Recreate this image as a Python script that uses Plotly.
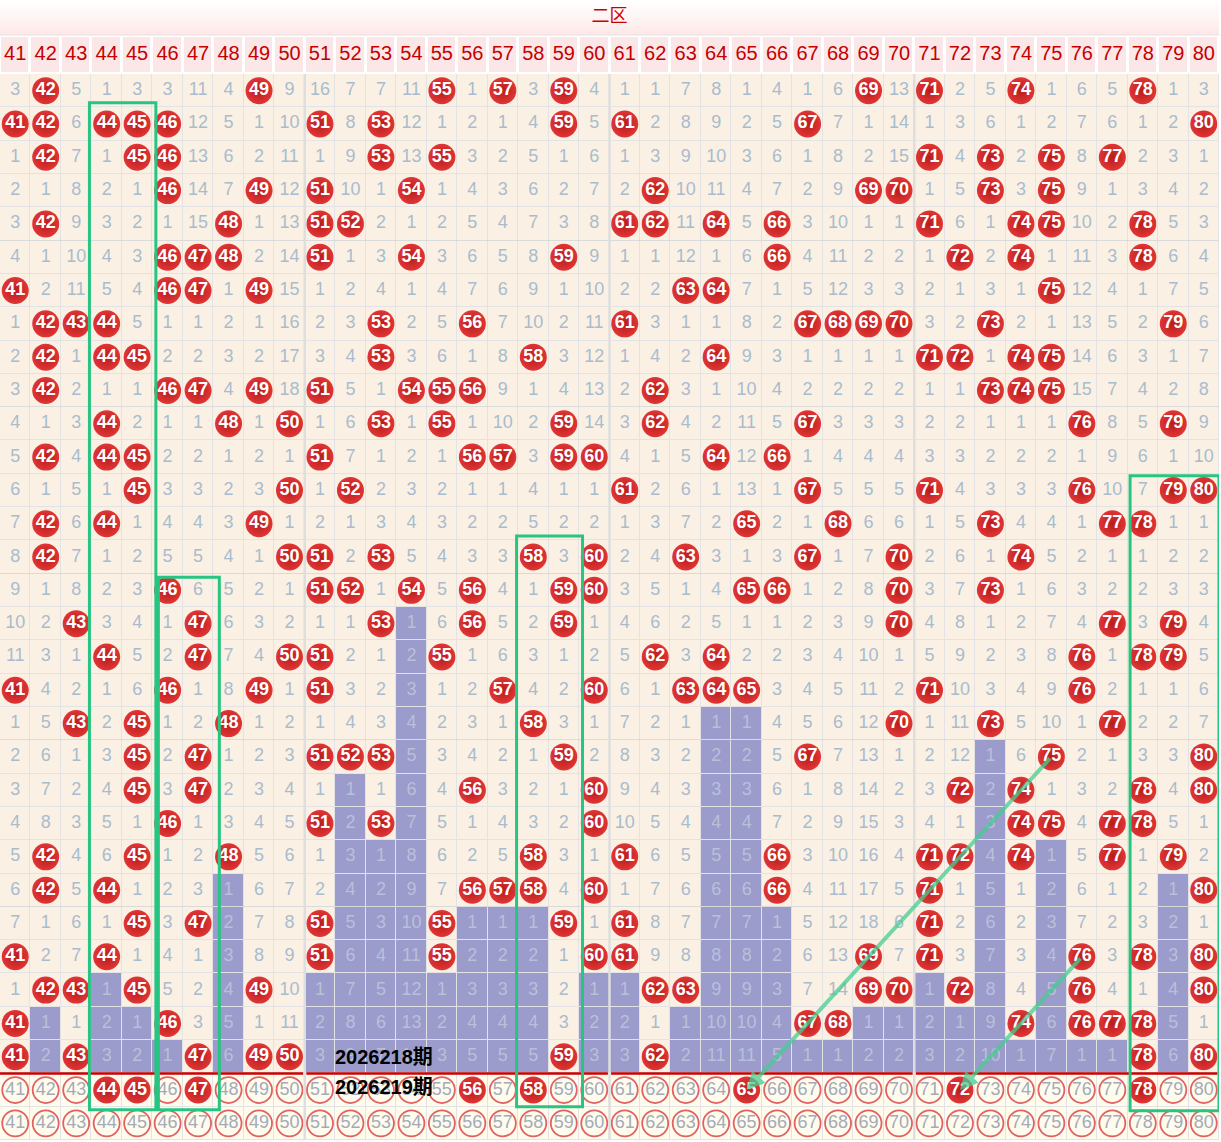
import plotly.graph_objects as go

# ---- data ----
zone_title = "二区"
numbers = list(range(41, 81))

# omission count per period and number, 0 = number drawn in that period
miss_rows = [
    [3, 0, 5, 1, 3, 3, 11, 4, 0, 9, 16, 7, 7, 11, 0, 1, 0, 3, 0, 4, 1, 1, 7, 8, 1, 4, 1, 6, 0, 13, 0, 2, 5, 0, 1, 6, 5, 0, 1, 3],
    [0, 0, 6, 0, 0, 0, 12, 5, 1, 10, 0, 8, 0, 12, 1, 2, 1, 4, 0, 5, 0, 2, 8, 9, 2, 5, 0, 7, 1, 14, 1, 3, 6, 1, 2, 7, 6, 1, 2, 0],
    [1, 0, 7, 1, 0, 0, 13, 6, 2, 11, 1, 9, 0, 13, 0, 3, 2, 5, 1, 6, 1, 3, 9, 10, 3, 6, 1, 8, 2, 15, 0, 4, 0, 2, 0, 8, 0, 2, 3, 1],
    [2, 1, 8, 2, 1, 0, 14, 7, 0, 12, 0, 10, 1, 0, 1, 4, 3, 6, 2, 7, 2, 0, 10, 11, 4, 7, 2, 9, 0, 0, 1, 5, 0, 3, 0, 9, 1, 3, 4, 2],
    [3, 0, 9, 3, 2, 1, 15, 0, 1, 13, 0, 0, 2, 1, 2, 5, 4, 7, 3, 8, 0, 0, 11, 0, 5, 0, 3, 10, 1, 1, 0, 6, 1, 0, 0, 10, 2, 0, 5, 3],
    [4, 1, 10, 4, 3, 0, 0, 0, 2, 14, 0, 1, 3, 0, 3, 6, 5, 8, 0, 9, 1, 1, 12, 1, 6, 0, 4, 11, 2, 2, 1, 0, 2, 0, 1, 11, 3, 0, 6, 4],
    [0, 2, 11, 5, 4, 0, 0, 1, 0, 15, 1, 2, 4, 1, 4, 7, 6, 9, 1, 10, 2, 2, 0, 0, 7, 1, 5, 12, 3, 3, 2, 1, 3, 1, 0, 12, 4, 1, 7, 5],
    [1, 0, 0, 0, 5, 1, 1, 2, 1, 16, 2, 3, 0, 2, 5, 0, 7, 10, 2, 11, 0, 3, 1, 1, 8, 2, 0, 0, 0, 0, 3, 2, 0, 2, 1, 13, 5, 2, 0, 6],
    [2, 0, 1, 0, 0, 2, 2, 3, 2, 17, 3, 4, 0, 3, 6, 1, 8, 0, 3, 12, 1, 4, 2, 0, 9, 3, 1, 1, 1, 1, 0, 0, 1, 0, 0, 14, 6, 3, 1, 7],
    [3, 0, 2, 1, 1, 0, 0, 4, 0, 18, 0, 5, 1, 0, 0, 0, 9, 1, 4, 13, 2, 0, 3, 1, 10, 4, 2, 2, 2, 2, 1, 1, 0, 0, 0, 15, 7, 4, 2, 8],
    [4, 1, 3, 0, 2, 1, 1, 0, 1, 0, 1, 6, 0, 1, 0, 1, 10, 2, 0, 14, 3, 0, 4, 2, 11, 5, 0, 3, 3, 3, 2, 2, 1, 1, 1, 0, 8, 5, 0, 9],
    [5, 0, 4, 0, 0, 2, 2, 1, 2, 1, 0, 7, 1, 2, 1, 0, 0, 3, 0, 0, 4, 1, 5, 0, 12, 0, 1, 4, 4, 4, 3, 3, 2, 2, 2, 1, 9, 6, 1, 10],
    [6, 1, 5, 1, 0, 3, 3, 2, 3, 0, 1, 0, 2, 3, 2, 1, 1, 4, 1, 1, 0, 2, 6, 1, 13, 1, 0, 5, 5, 5, 0, 4, 3, 3, 3, 0, 10, 7, 0, 0],
    [7, 0, 6, 0, 1, 4, 4, 3, 0, 1, 2, 1, 3, 4, 3, 2, 2, 5, 2, 2, 1, 3, 7, 2, 0, 2, 1, 0, 6, 6, 1, 5, 0, 4, 4, 1, 0, 0, 1, 1],
    [8, 0, 7, 1, 2, 5, 5, 4, 1, 0, 0, 2, 0, 5, 4, 3, 3, 0, 3, 0, 2, 4, 0, 3, 1, 3, 0, 1, 7, 0, 2, 6, 1, 0, 5, 2, 1, 1, 2, 2],
    [9, 1, 8, 2, 3, 0, 6, 5, 2, 1, 0, 0, 1, 0, 5, 0, 4, 1, 0, 0, 3, 5, 1, 4, 0, 0, 1, 2, 8, 0, 3, 7, 0, 1, 6, 3, 2, 2, 3, 3],
    [10, 2, 0, 3, 4, 1, 0, 6, 3, 2, 1, 1, 0, 1, 6, 0, 5, 2, 0, 1, 4, 6, 2, 5, 1, 1, 2, 3, 9, 0, 4, 8, 1, 2, 7, 4, 0, 3, 0, 4],
    [11, 3, 1, 0, 5, 2, 0, 7, 4, 0, 0, 2, 1, 2, 0, 1, 6, 3, 1, 2, 5, 0, 3, 0, 2, 2, 3, 4, 10, 1, 5, 9, 2, 3, 8, 0, 1, 0, 0, 5],
    [0, 4, 2, 1, 6, 0, 1, 8, 0, 1, 0, 3, 2, 3, 1, 2, 0, 4, 2, 0, 6, 1, 0, 0, 0, 3, 4, 5, 11, 2, 0, 10, 3, 4, 9, 0, 2, 1, 1, 6],
    [1, 5, 0, 2, 0, 1, 2, 0, 1, 2, 1, 4, 3, 4, 2, 3, 1, 0, 3, 1, 7, 2, 1, 1, 1, 4, 5, 6, 12, 0, 1, 11, 0, 5, 10, 1, 0, 2, 2, 7],
    [2, 6, 1, 3, 0, 2, 0, 1, 2, 3, 0, 0, 0, 5, 3, 4, 2, 1, 0, 2, 8, 3, 2, 2, 2, 5, 0, 7, 13, 1, 2, 12, 1, 6, 0, 2, 1, 3, 3, 0],
    [3, 7, 2, 4, 0, 3, 0, 2, 3, 4, 1, 1, 1, 6, 4, 0, 3, 2, 1, 0, 9, 4, 3, 3, 3, 6, 1, 8, 14, 2, 3, 0, 2, 0, 1, 3, 2, 0, 4, 0],
    [4, 8, 3, 5, 1, 0, 1, 3, 4, 5, 0, 2, 0, 7, 5, 1, 4, 3, 2, 0, 10, 5, 4, 4, 4, 7, 2, 9, 15, 3, 4, 1, 3, 0, 0, 4, 0, 0, 5, 1],
    [5, 0, 4, 6, 0, 1, 2, 0, 5, 6, 1, 3, 1, 8, 6, 2, 5, 0, 3, 1, 0, 6, 5, 5, 5, 0, 3, 10, 16, 4, 0, 0, 4, 0, 1, 5, 0, 1, 0, 2],
    [6, 0, 5, 0, 1, 2, 3, 1, 6, 7, 2, 4, 2, 9, 7, 0, 0, 0, 4, 0, 1, 7, 6, 6, 6, 0, 4, 11, 17, 5, 0, 1, 5, 1, 2, 6, 1, 2, 1, 0],
    [7, 1, 6, 1, 0, 3, 0, 2, 7, 8, 0, 5, 3, 10, 0, 1, 1, 1, 0, 1, 0, 8, 7, 7, 7, 1, 5, 12, 18, 6, 0, 2, 6, 2, 3, 7, 2, 3, 2, 1],
    [0, 2, 7, 0, 1, 4, 1, 3, 8, 9, 0, 6, 4, 11, 0, 2, 2, 2, 1, 0, 0, 9, 8, 8, 8, 2, 6, 13, 0, 7, 0, 3, 7, 3, 4, 0, 3, 0, 3, 0],
    [1, 0, 0, 1, 0, 5, 2, 4, 0, 10, 1, 7, 5, 12, 1, 3, 3, 3, 2, 1, 1, 0, 0, 9, 9, 3, 7, 14, 0, 0, 1, 0, 8, 4, 5, 0, 4, 1, 4, 0],
    [0, 1, 1, 2, 1, 0, 3, 5, 1, 11, 2, 8, 6, 13, 2, 4, 4, 4, 3, 2, 2, 1, 1, 10, 10, 4, 0, 0, 1, 1, 2, 1, 9, 0, 6, 0, 0, 0, 5, 1],
    [0, 2, 0, 3, 2, 1, 0, 6, 0, 0, 3, 9, 7, 14, 3, 5, 5, 5, 0, 3, 3, 0, 2, 11, 11, 5, 1, 1, 2, 2, 3, 2, 10, 1, 7, 1, 1, 0, 6, 0],
]

# numbers picked in the forecast row under the table
picks = [44, 45, 47, 56, 58, 65, 72, 78]
periods = ["2026218期", "2026219期"]

# green boxes: (first number, last number, first period row)
boxes = [(44, 45, 2), (46, 47, 16), (58, 59, 15), (78, 80, 13)]
# green arrows: (from number, from row, to number, to row)
arrows = [(75, 21, 65, 31), (76, 27, 72, 31)]

# ---- geometry / style ----
W, H = 1221, 1142
HEAD_PX = 74
n_rows = len(miss_rows)
pred_row = n_rows + 1
blank_row = n_rows + 2
ROW_PX = (H - 2 - HEAD_PX) / blank_row
COL_PX = (W - 2) / len(numbers)
Y_TOP = 0.5 - HEAD_PX / ROW_PX


def py(px):
    return Y_TOP + px / ROW_PX


def col(n):
    return numbers.index(n)


FONT = "Liberation Sans, Arial, sans-serif"
CREAM = "#FAF1E4"
PURPLE = "#9B9BCC"
YELLOW = "#FFFCEE"
GRID = "#E3E3E6"
GREEN = "#27C482"

# which cells belong to the current (unfinished) miss streak
last_hit = []
for c in range(len(numbers)):
    hits = [r for r in range(n_rows) if miss_rows[r][c] == 0]
    last_hit.append(hits[-1] if hits else -1)

z = []
for r in range(n_rows):
    z.append([1 if r > last_hit[c] else 0 for c in range(len(numbers))])
z.append([2] * len(numbers))
z.append([2] * len(numbers))

fig = go.Figure()

# header background
fig.add_shape(type="rect", x0=-0.5, x1=len(numbers) - 0.5, y0=Y_TOP, y1=0.5,
              fillcolor="white", line_width=0, layer="below")
steps = 12
fig.add_trace(go.Heatmap(
    z=[[k] for k in range(steps)], x=[-0.5, len(numbers) - 0.5],
    y=[py(35 * k / steps) for k in range(steps + 1)],
    colorscale=[[0, "#FFFFFF"], [1, "#FDE9E9"]], showscale=False, hoverinfo="skip"))
fig.add_trace(go.Heatmap(
    z=[[1] * len(numbers)], x=[c - 0.5 for c in range(len(numbers) + 1)],
    y=[py(37), py(72)], xgap=3,
    colorscale=[[0, "#FBE7E7"], [1, "#FBE7E7"]], showscale=False, hoverinfo="skip"))

# body cells
fig.add_trace(go.Heatmap(
    z=z, x=list(range(len(numbers))), y=list(range(1, blank_row + 1)),
    zmin=0, zmax=2, xgap=1, ygap=1,
    colorscale=[[0, CREAM], [0.33, CREAM], [0.34, PURPLE], [0.66, PURPLE],
                [0.67, YELLOW], [1, YELLOW]],
    showscale=False, hoverinfo="skip"))

# separators every 5 periods and every 10 numbers
for r in range(5, n_rows, 5):
    fig.add_shape(type="line", x0=-0.5, x1=len(numbers) - 0.5, y0=r + 0.5, y1=r + 0.5,
                  line=dict(color="#DADADA", width=2), layer="below")
for c in range(10, len(numbers), 10):
    fig.add_shape(type="line", x0=c - 0.5, x1=c - 0.5, y0=0.5, y1=blank_row + 0.5,
                  line=dict(color="#DEDEDE", width=2.5), layer="above")
gap = 1.6 / COL_PX
for c in range(0, len(numbers), 10):
    fig.add_shape(type="line", x0=c - 0.5 + (gap if c else 0), x1=c + 9.5 - gap,
                  y0=n_rows + 0.5, y1=n_rows + 0.5,
                  line=dict(color="#CC0000", width=2.5), layer="above")
fig.add_shape(type="line", x0=-0.5, x1=len(numbers) - 0.5, y0=py(35), y1=py(35),
              line=dict(color="#EEDCDC", width=1), layer="above")

# header texts
fig.add_trace(go.Scatter(
    x=[(len(numbers) - 1) / 2], y=[py(17)], mode="text", text=[zone_title],
    textfont=dict(family="Noto Sans CJK SC", size=18, color="#CC0000"), hoverinfo="skip"))
fig.add_trace(go.Scatter(
    x=list(range(len(numbers))), y=[py(55)] * len(numbers), mode="text",
    text=[str(n) for n in numbers],
    textfont=dict(family=FONT, size=20, color="#C40000"), hoverinfo="skip"))

# omission numbers
gx, gy, gt, vx, vy, vt, hx, hy, ht = [], [], [], [], [], [], [], [], []
for r, row in enumerate(miss_rows):
    for c, v in enumerate(row):
        if v == 0:
            hx.append(c); hy.append(r + 1); ht.append(str(numbers[c]))
        elif r > last_hit[c]:
            vx.append(c); vy.append(r + 1); vt.append(str(v))
        else:
            gx.append(c); gy.append(r + 1); gt.append(str(v))

fig.add_trace(go.Scatter(x=gx, y=gy, mode="text", text=gt,
                         textfont=dict(family=FONT, size=18, color="#A9BCCE"), hoverinfo="skip"))
fig.add_trace(go.Scatter(x=vx, y=vy, mode="text", text=vt,
                         textfont=dict(family=FONT, size=18, color="#B9C0DA"), hoverinfo="skip"))

ball = dict(size=27, color="#E03535", line=dict(width=0),
            gradient=dict(type="radial", color="#B81C1C"))
fig.add_trace(go.Scatter(x=hx, y=hy, mode="markers+text", text=ht, marker=ball,
                         textfont=dict(family=FONT, size=18, color="white", weight="bold"),
                         hoverinfo="skip"))

# forecast row and blank selection row
ox, oy, ot, px_, py_, pt = [], [], [], [], [], []
for c, n in enumerate(numbers):
    if n in picks:
        px_.append(c); py_.append(pred_row); pt.append(str(n))
    else:
        ox.append(c); oy.append(pred_row); ot.append(str(n))
    ox.append(c); oy.append(blank_row); ot.append(str(n))

fig.add_trace(go.Scatter(
    x=ox, y=oy, mode="markers+text", text=ot,
    marker=dict(size=26, color="rgba(0,0,0,0)", line=dict(width=1.8, color="#E06262")),
    textfont=dict(family=FONT, size=18, color="#A3AABA"), hoverinfo="skip"))
fig.add_trace(go.Scatter(x=px_, y=py_, mode="markers+text", text=pt, marker=ball,
                         textfont=dict(family=FONT, size=18, color="white", weight="bold"),
                         hoverinfo="skip"))

# green boxes (pixel nudges measured on the picture)
box_nudge = [(-2, 3.5, -4.5, 3), (6, 6, 3.5, 3), (-1.5, 3.5, -4.5, 0), (2.5, 0, 2, 4)]
for (a, b, r0), (dl, dr, dt, db) in zip(boxes, box_nudge):
    fig.add_shape(type="rect",
                  x0=col(a) - 0.5 + dl / COL_PX, x1=col(b) + 0.5 + dr / COL_PX,
                  y0=r0 - 0.5 + dt / ROW_PX, y1=pred_row + 0.5 + db / ROW_PX,
                  line=dict(color=GREEN, width=3), fillcolor="rgba(0,0,0,0)", layer="above")

for n0, r0, n1, r1 in arrows:
    fig.add_annotation(x=col(n1), y=r1, ax=col(n0), ay=r0, xref="x", yref="y",
                       axref="x", ayref="y", text="", showarrow=True, arrowhead=2,
                       arrowsize=0.9, arrowwidth=4, arrowcolor="rgba(70,205,145,0.75)")

for k, label in enumerate(periods):
    fig.add_annotation(x=col(52) - 0.5 - 2 / COL_PX, y=n_rows + k - 0.08 * k, text=label,
                       xref="x", yref="y", xanchor="left", yanchor="middle",
                       showarrow=False,
                       font=dict(family="Liberation Sans, Noto Sans CJK SC", size=20,
                                 color="black", weight="bold"))

fig.update_xaxes(range=[-0.5, len(numbers) - 0.5], visible=False, fixedrange=True)
fig.update_yaxes(range=[blank_row + 0.5, Y_TOP], visible=False, fixedrange=True)
fig.update_layout(width=W, height=H, margin=dict(l=0, r=2, t=0, b=2),
                  paper_bgcolor="white", plot_bgcolor=GRID, showlegend=False)

# the page itself should add no border round the figure
fig.write_html("out.html", config={"displayModeBar": False},
               post_script="document.body.style.margin='0';")
